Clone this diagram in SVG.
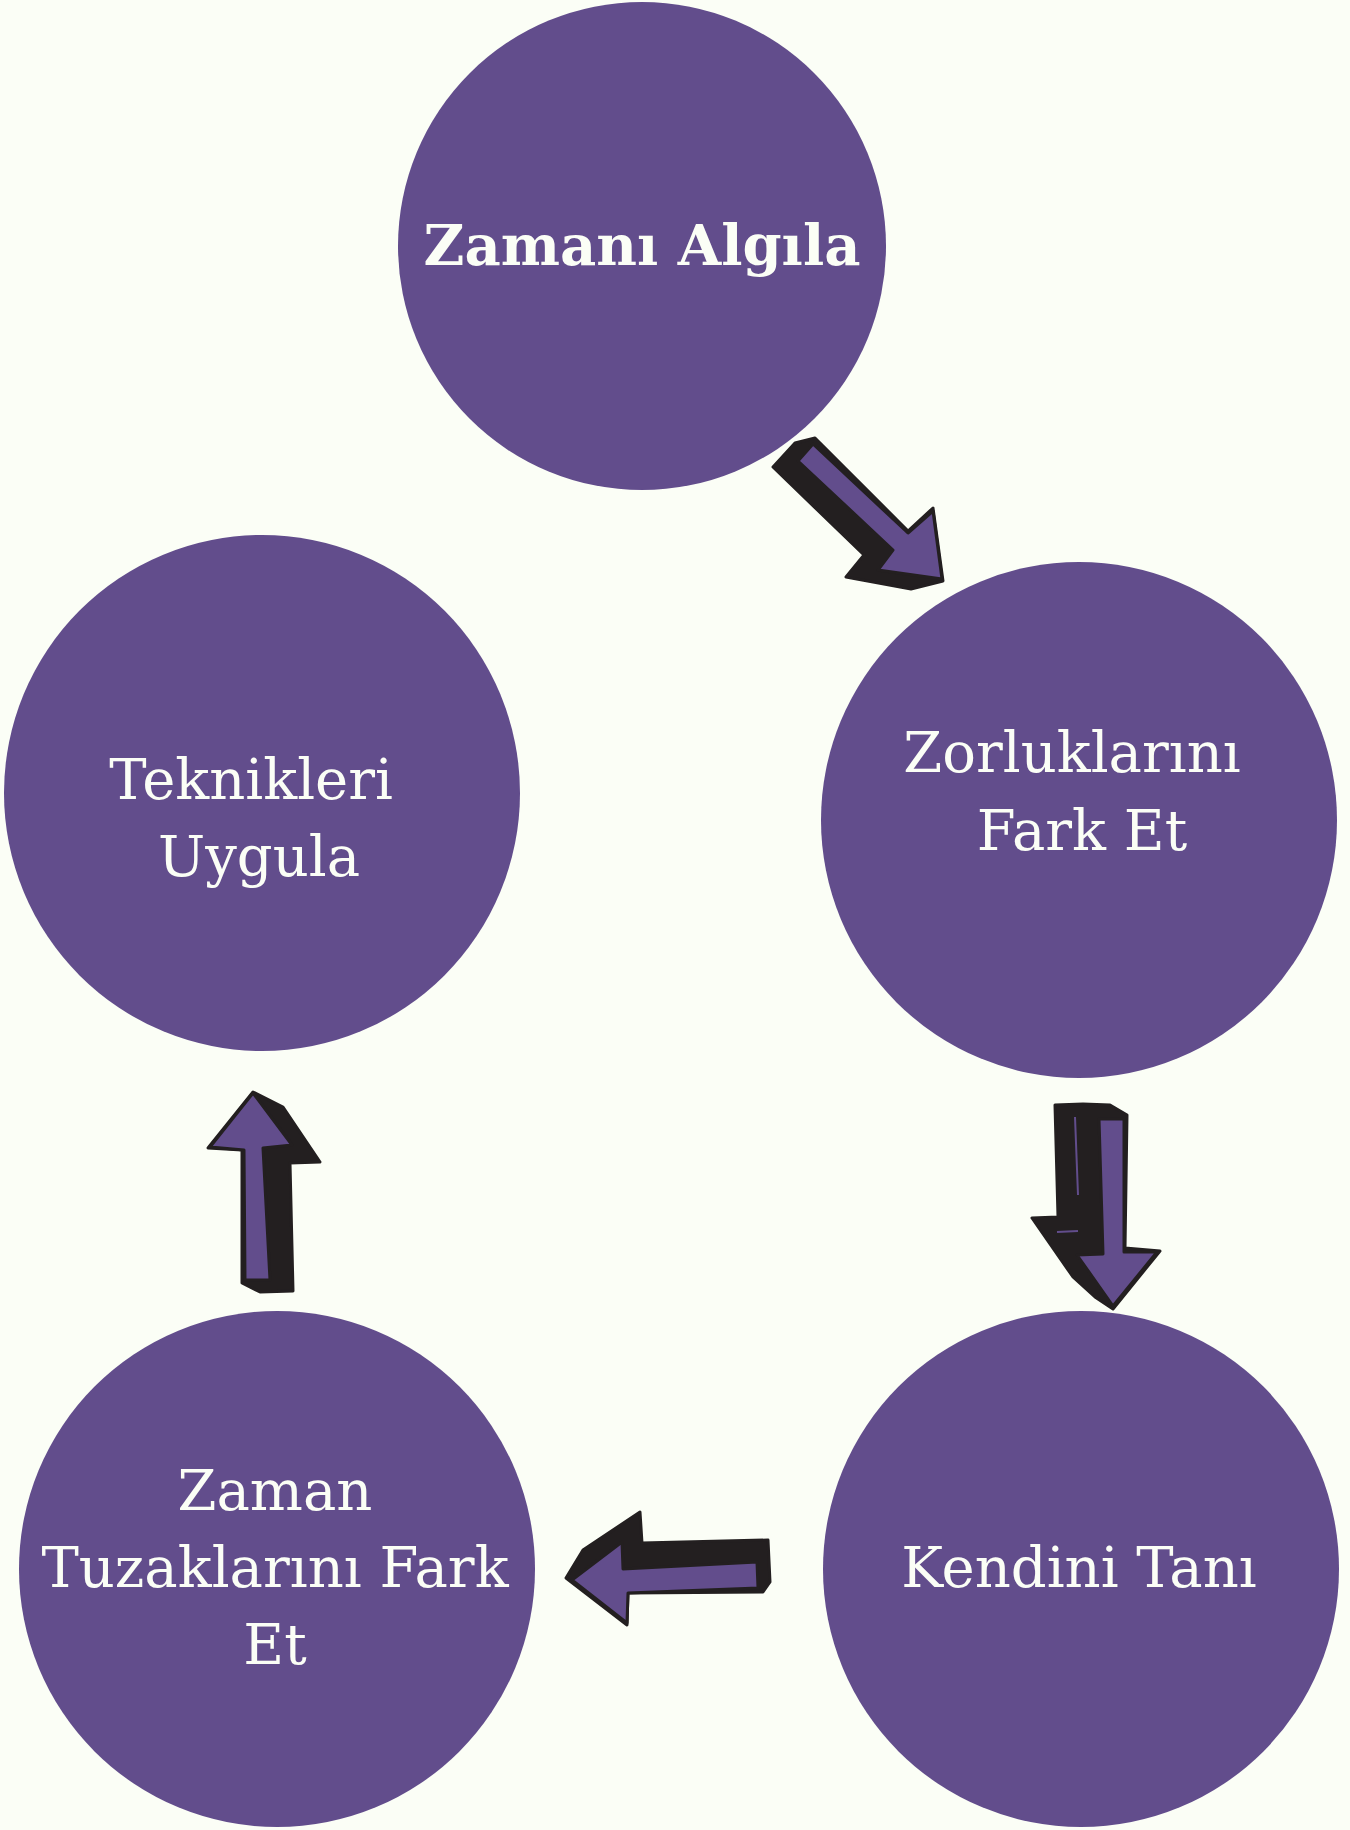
<svg xmlns="http://www.w3.org/2000/svg" width="1350" height="1830" viewBox="0 0 1350 1830">
<style>
.node{fill:#624D8C}
.lbl{font-family:"DejaVu Serif",serif;font-size:56px;fill:#FBFEF6;text-anchor:middle}
.bold{font-weight:bold}
.sh{fill:#231F20;stroke:#231F20;stroke-width:3;stroke-linejoin:round}
.fr{fill:#624D8C;stroke:#231F20;stroke-width:3;stroke-linejoin:round}
</style>
<rect width="1350" height="1830" fill="#FBFEF6"/>
<g id="n1"><circle class="node" cx="642" cy="246" r="244"/><text class="lbl bold" x="642" y="265">Zamanı Algıla</text></g>
<g id="n2"><circle class="node" cx="1079" cy="820" r="258"/><text class="lbl" x="1072" y="772">Zorluklarını</text><text class="lbl" x="1082" y="850">Fark Et</text></g>
<g id="n3"><circle class="node" cx="1081" cy="1569" r="258"/><text class="lbl" x="1079" y="1587">Kendini Tanı</text></g>
<g id="n4"><circle class="node" cx="277" cy="1569" r="258"/><text class="lbl" x="275" y="1510">Zaman</text><text class="lbl" x="275" y="1587">Tuzaklarını Fark</text><text class="lbl" x="275" y="1664">Et</text></g>
<g id="n5"><circle class="node" cx="262" cy="793" r="258"/><text class="lbl" x="251" y="799">Teknikleri</text><text class="lbl" x="259" y="876">Uygula</text></g>
<g id="connectors">
<g id="a1"><polygon class="sh" points="773,467 795,443 815,438 908,531 933,508 943,581 911,589 846,577 864,555"/><polygon class="fr" points="798,461 813,444 908,533 933,511 942,579 878,570 893,550"/></g>
<g id="a2"><polygon class="sh" points="1055,1105 1083,1104 1110,1105 1127,1115 1125,1248 1160,1251 1113,1309 1095,1297 1073,1277 1032,1218 1058,1217"/><polygon class="fr" points="1099,1119 1124,1119 1124,1252 1157,1252 1113,1306 1077,1255 1103,1254"/><path d="M1075,1117 L1078,1195 M1057,1232 L1078,1231" stroke="#624D8C" stroke-width="2" fill="none"/></g>
<g id="a3"><polygon class="sh" points="566,1578 583,1550 640,1512 642,1543 768,1540 770,1582 763,1592 628,1593 627,1625"/><polygon class="fr" points="572,1580 622,1542 623,1569 757,1562 758,1588 628,1593 627,1623"/></g>
<g id="a4"><polygon class="sh" points="253,1092 283,1107 320,1162 290,1163 293,1291 260,1292 242,1283 242,1150 208,1148"/><polygon class="fr" points="253,1093 292,1145 263,1148 270,1280 245,1280 244,1150 210,1147"/></g>
</g>
</svg>
